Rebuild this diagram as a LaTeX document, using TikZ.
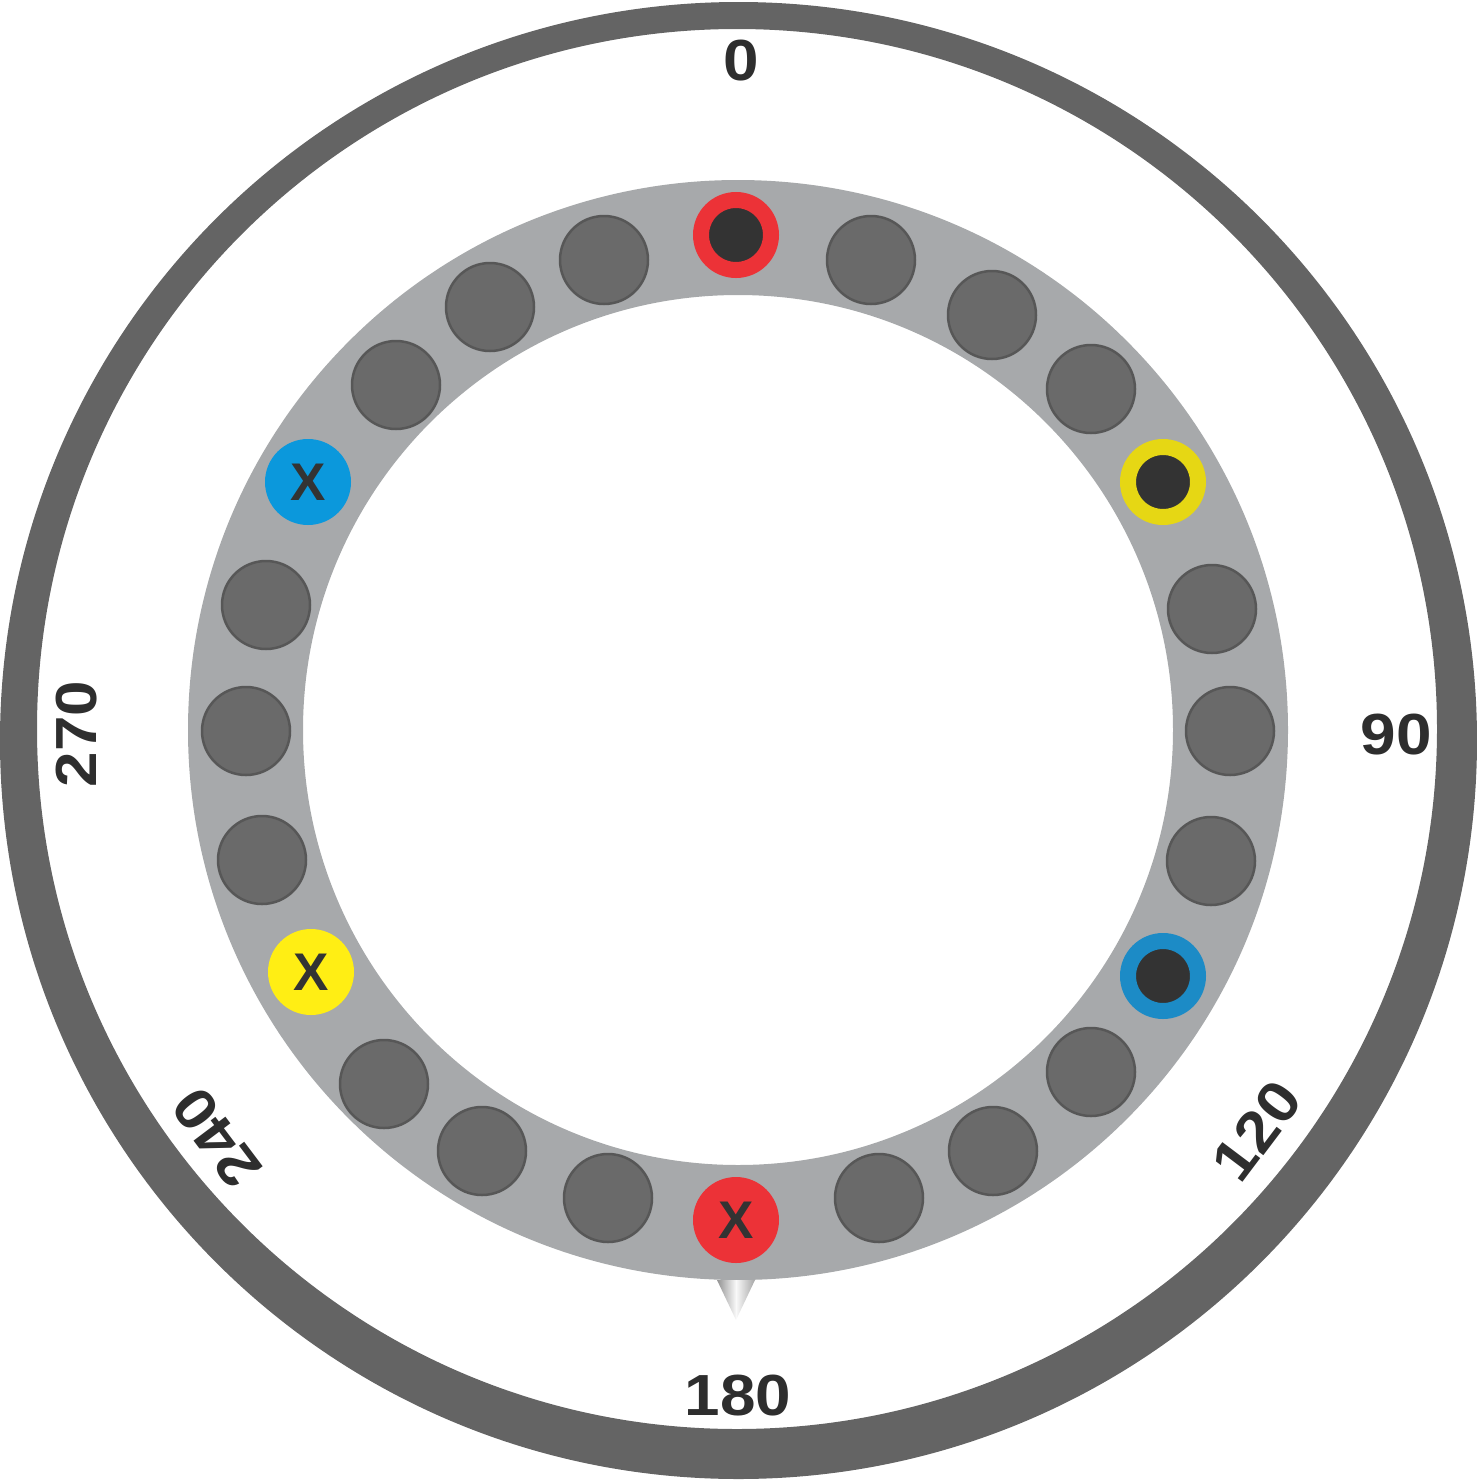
\documentclass[tikz,border=0pt]{standalone}
\usepackage{fontspec}
\setmainfont{Liberation Sans}
\newfontfamily\dialfont[FakeStretch=1.1]{Liberation Sans Bold}
\definecolor{ringgray}{HTML}{A7A9AB}
\definecolor{holefill}{HTML}{6A6A6A}
\definecolor{holeedge}{HTML}{575757}
\definecolor{darkc}{HTML}{333333}
\definecolor{txt}{HTML}{2E2E2E}
\definecolor{mred}{HTML}{EC3237}
\definecolor{myel}{HTML}{E6D714}
\definecolor{myelx}{HTML}{FFEE14}
\definecolor{mblue}{HTML}{1C8BC6}
\definecolor{mbluex}{HTML}{0B98DC}
\definecolor{outerring}{HTML}{646464}
\tikzset{
  hole/.style={circle, minimum size=88pt, inner sep=0pt, fill=holefill, draw=holeedge, line width=2.5pt},
  markring/.style={circle, minimum size=70pt, inner sep=0pt, fill=darkc, draw=#1, line width=16pt},
  markx/.style={circle, minimum size=86pt, inner sep=0pt, fill=#1, text=darkc, font=\bfseries\fontsize{53}{53}\selectfont},
  dial/.style={inner sep=0pt, text=txt, font=\dialfont\fontsize{58}{58}\selectfont}
}
\begin{document}
\begin{tikzpicture}[x=1pt,y=1pt]
\useasboundingbox (0,0) rectangle (1477,-1481);
\coordinate (C) at (738,-730);
% outer ring
\fill[outerring, even odd rule] (738.5,-740.5) circle (738.5) (737,-729) circle (700);
% grey annulus
\fill[ringgray, even odd rule] (C) circle (550) (C) circle (435);
% holes
\foreach \i/\x/\y in {1/871/260, 2/992/315, 3/1091/389, 5/1212/609, 6/1230/731,
  7/1211/861, 9/1091/1072, 10/993/1151, 11/879/1198, 13/608/1198, 14/482/1151,
  15/384/1084, 17/262/860, 18/246/731, 19/266/605, 21/396/385, 22/490/307, 23/604/260}{
  \node[hole] (h\i) at (\x,-\y) {};
}
\node[markring=mred] (h0) at (736,-235) {};
\node[markring=myel] (h4) at (1163,-482) {};
\node[markring=mblue] (h8) at (1163,-976) {};
\node[markx=mred] (h12) at (736,-1220) {X};
\node[markx=myelx] (h16) at (311,-972) {X};
\node[markx=mbluex] (h20) at (308,-482) {X};
% pointer
\shade[left color=gray!85, right color=gray!70, middle color=white!95!gray]
  (717,-1280) -- (755,-1280) -- (736,-1320) -- cycle;
% labels
\node[dial] (l0) at (741.5,-61) {0};
\node[dial] (l90) at (1396,-735) {90};
\node[dial] (l180) at (738,-1396) {180};
\node[dial, rotate=90] (l270) at (77,-734) {270};
\node[dial, rotate=53] (l120) at (1257,-1131) {120};
\node[dial, rotate=127] (l240) at (217,-1138) {240};
\end{tikzpicture}
\end{document}
